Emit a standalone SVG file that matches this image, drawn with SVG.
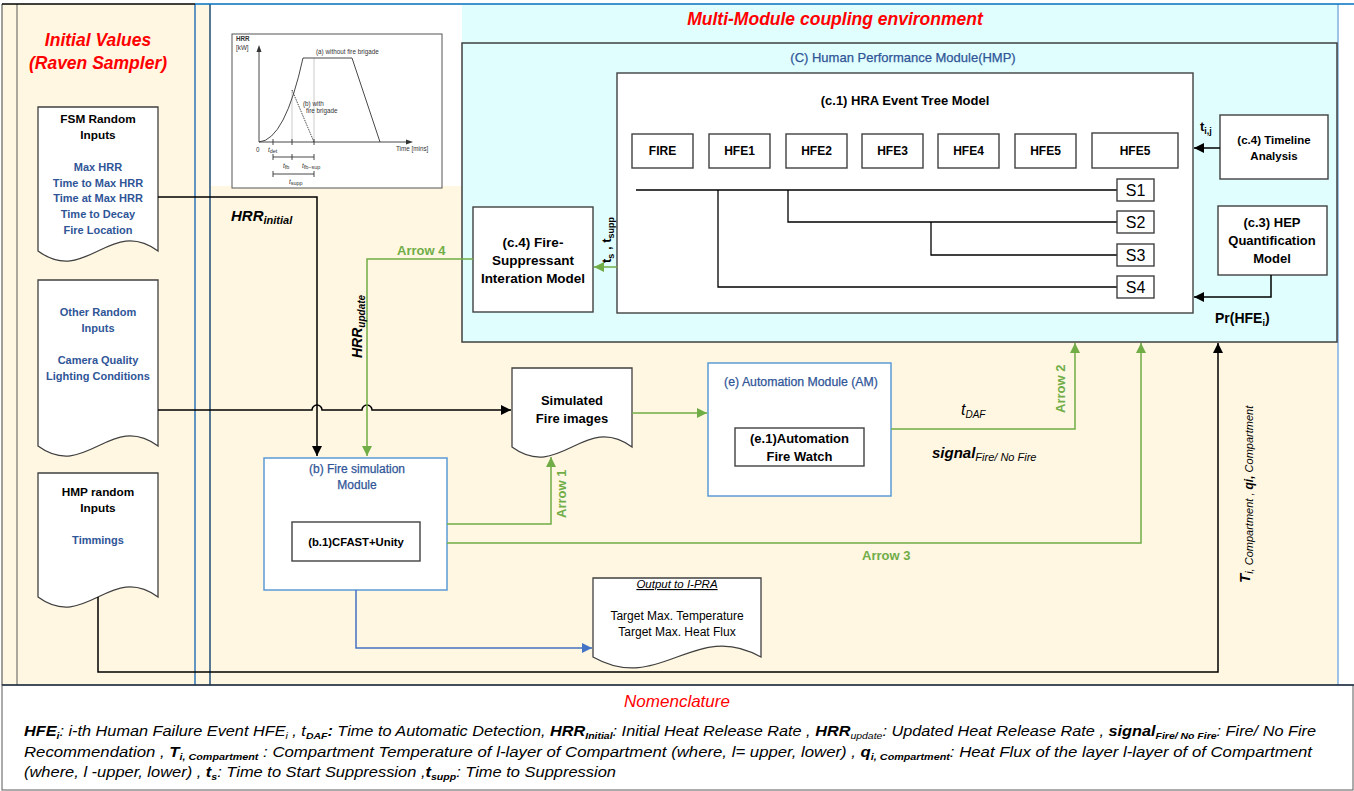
<svg xmlns="http://www.w3.org/2000/svg" width="1354" height="791" viewBox="0 0 1354 791">
<defs>
<style>
text{font-family:"Liberation Sans",Arial,sans-serif;fill:#000}
.b{font-weight:bold}
.i{font-style:italic}
.c{text-anchor:middle}
.blue{fill:#2F5597}
.bd{fill:#2F5597;font-weight:bold;font-size:11px}
.bt{fill:#2F5597;stroke:#2F5597;stroke-width:0.25}
.red{fill:#FF0000;font-weight:bold;font-style:italic}
.gl{fill:#70AD47;font-weight:bold;font-size:13px}
.doc{fill:#fff;stroke:#404040;stroke-width:1.3}
.box{fill:#fff;stroke:#404040;stroke-width:1.4}
.mod{fill:#fff;stroke:#5B9BD5;stroke-width:1.5}
.cb{fill:none;stroke:#000;stroke-width:1.5}
.cg{fill:none;stroke:#70AD47;stroke-width:1.5}
.cu{fill:none;stroke:#4472C4;stroke-width:1.5}
.et{fill:none;stroke:#000;stroke-width:1.3}
.gr{fill:#333;font-size:6.3px}
.gline{fill:none;stroke:#333;stroke-width:0.9}
.faint{fill:none;stroke:#aaa;stroke-width:0.6}
.nom{font-size:14px;font-style:italic}
</style>
<marker id="ab" viewBox="0 0 10 10" refX="10" refY="5" markerWidth="10" markerHeight="10" markerUnits="userSpaceOnUse" orient="auto"><path d="M0,0 L10,5 L0,10 Z" fill="#000"/></marker>
<marker id="ag" viewBox="0 0 10 10" refX="10" refY="5" markerWidth="10" markerHeight="10" markerUnits="userSpaceOnUse" orient="auto"><path d="M0,0 L10,5 L0,10 Z" fill="#70AD47"/></marker>
<marker id="au" viewBox="0 0 10 10" refX="10" refY="5" markerWidth="10" markerHeight="10" markerUnits="userSpaceOnUse" orient="auto"><path d="M0,0 L10,5 L0,10 Z" fill="#4472C4"/></marker>
</defs>

<g id="background">
<rect x="0" y="0" width="1354" height="791" fill="#fff"/>
<rect x="2" y="4" width="1336" height="681" fill="#FFF7E2"/>
<rect x="211" y="5" width="251" height="181" fill="#fff"/>
<rect x="462" y="5" width="876" height="337" fill="#E0FEFE"/>
<line x1="2" y1="4" x2="2" y2="685" stroke="#7F7F7F" stroke-width="1.5"/>
<line x1="17" y1="4" x2="17" y2="685" stroke="#595959" stroke-width="1"/>
<line x1="195" y1="4" x2="195" y2="685" stroke="#2E75B6" stroke-width="1.5"/>
<line x1="210" y1="4" x2="210" y2="685" stroke="#1F4E79" stroke-width="1.5"/>
<line x1="1338" y1="4" x2="1338" y2="685" stroke="#9DC3E6" stroke-width="2"/>
<line x1="2" y1="4" x2="195" y2="4" stroke="#000" stroke-width="1.5"/>
<line x1="195" y1="4" x2="1354" y2="4" stroke="#0070C0" stroke-width="1.5"/>
</g>

<g id="initial-values-title">
<text x="98" y="46" class="red c" font-size="17.5">Initial Values</text>
<text x="98" y="69" class="red c" font-size="17.5">(Raven Sampler)</text>
</g>

<g id="multi-module-title">
<text x="835" y="25" class="red c" font-size="17.5">Multi-Module coupling environment</text>
</g>

<g id="hrr-graph">
<rect x="232" y="34" width="210" height="154" fill="#fff" stroke="#555" stroke-width="1"/>
<path class="gline" d="M259,142 V50"/>
<path d="M256.5,52 L259,45 L261.5,52 Z" fill="#333"/>
<path class="gline" d="M259,142 H408"/>
<path d="M406,139.5 L413,142 L406,144.5 Z" fill="#333"/>
<path class="faint" d="M292,90 V142 M314,58 V142"/>
<path class="gline" d="M259,142 Q285,140 303,58 L352,58 L380,142"/>
<path class="gline" d="M292,90 L314,142" stroke-dasharray="1.5,1"/>
<path class="gline" d="M273,139 V145 M292,139 V145 M314,139 V145"/>
<path class="gline" d="M273,157 H314 M273,154 V160 M292,154 V160 M314,154 V160"/>
<path class="gline" d="M273,174 H314 M273,171 V177 M314,171 V177"/>
<text x="236" y="41" class="gr b">HRR</text>
<text x="236" y="50" class="gr">[kW]</text>
<text x="316" y="54" class="gr">(a) without fire brigade</text>
<text x="303" y="106" class="gr">(b) with</text>
<text x="306" y="113" class="gr">fire brigade</text>
<text x="256" y="152" class="gr" font-size="7">0</text>
<text x="268" y="152" class="gr i" font-size="8.5">t<tspan font-size="5.5" font-style="normal" dy="1">det</tspan></text>
<text x="396" y="151" class="gr" font-size="7">Time [mins]</text>
<text x="283" y="168" class="gr i" font-size="8.5">t<tspan font-size="5.5" font-style="normal" dy="1">fb</tspan></text>
<text x="302" y="168" class="gr i" font-size="8.5">t<tspan font-size="5.5" font-style="normal" dy="1">fb−sup</tspan></text>
<text x="289" y="184" class="gr i" font-size="8.5">t<tspan font-size="5.5" font-style="normal" dy="1">supp</tspan></text>
</g>

<g id="hmp-module">
<rect x="462" y="43" width="875" height="299" fill="#E0FEFE" stroke="#404040" stroke-width="1.5"/>
<text x="903" y="62" class="bt c" font-size="13">(C) Human Performance Module(HMP)</text>
</g>

<g id="event-tree">
<rect x="617" y="73" width="576" height="240" class="box"/>
<text x="905" y="105" class="b c" font-size="13">(c.1) HRA Event Tree Model</text>
<rect x="632" y="134" width="61" height="34" class="box"/>
<text x="662.5" y="155" class="b c" font-size="12">FIRE</text>
<rect x="709" y="134" width="61" height="34" class="box"/>
<text x="739.5" y="155" class="b c" font-size="12">HFE1</text>
<rect x="786" y="134" width="61" height="34" class="box"/>
<text x="816.5" y="155" class="b c" font-size="12">HFE2</text>
<rect x="862" y="134" width="61" height="34" class="box"/>
<text x="892.5" y="155" class="b c" font-size="12">HFE3</text>
<rect x="938" y="134" width="61" height="34" class="box"/>
<text x="968.5" y="155" class="b c" font-size="12">HFE4</text>
<rect x="1015" y="134" width="61" height="34" class="box"/>
<text x="1045.5" y="155" class="b c" font-size="12">HFE5</text>
<rect x="1092" y="133" width="86" height="35" class="box"/>
<text x="1135" y="155" class="b c" font-size="12">HFE5</text>
<path class="et" d="M636,190 H1117 M718,190 V287 H1117 M788,190 V222 H1117 M931,222 V255 H1117"/>
<rect x="1117" y="179" width="37" height="22" class="box"/>
<text x="1135.5" y="196" class="c" font-size="16">S1</text>
<rect x="1117" y="211" width="37" height="22" class="box"/>
<text x="1135.5" y="228" class="c" font-size="16">S2</text>
<rect x="1117" y="244" width="37" height="22" class="box"/>
<text x="1135.5" y="261" class="c" font-size="16">S3</text>
<rect x="1117" y="276" width="37" height="22" class="box"/>
<text x="1135.5" y="293" class="c" font-size="16">S4</text>
</g>

<g id="timeline-analysis">
<rect x="1220" y="115" width="108" height="64" class="box"/>
<text x="1274" y="144" class="b c" font-size="11.5">(c.4) Timeline</text>
<text x="1274" y="160" class="b c" font-size="11.5">Analysis</text>
</g>

<g id="hep-quantification">
<rect x="1218" y="206" width="109" height="69" class="box"/>
<text x="1272" y="227" class="b c" font-size="13">(c.3) HEP</text>
<text x="1272" y="245" class="b c" font-size="13">Quantification</text>
<text x="1272" y="263" class="b c" font-size="13">Model</text>
</g>

<g id="fire-suppressant">
<rect x="473" y="207" width="120" height="105" class="box"/>
<text x="533" y="247" class="b c" font-size="13.5">(c.4) Fire-</text>
<text x="533" y="265" class="b c" font-size="13.5">Suppressant</text>
<text x="533" y="283" class="b c" font-size="13.5">Interation Model</text>
</g>

<g id="fsm-inputs">
<path class="doc" d="M38,107 H158 V251 C110,216 86,286 38,251 Z"/>
<text x="98" y="123" class="b c" font-size="11.8">FSM Random</text>
<text x="98" y="139" class="b c" font-size="11.8">Inputs</text>
<text x="98" y="171" class="bd c">Max HRR</text>
<text x="98" y="187" class="bd c">Time to Max HRR</text>
<text x="98" y="202" class="bd c">Time at Max HRR</text>
<text x="98" y="218" class="bd c">Time to Decay</text>
<text x="98" y="234" class="bd c">Fire Location</text>
</g>

<g id="other-inputs">
<path class="doc" d="M38,280 H158 V446 C110,411 86,481 38,446 Z"/>
<text x="98" y="316" class="bd c">Other Random</text>
<text x="98" y="332" class="bd c">Inputs</text>
<text x="98" y="364" class="bd c">Camera Quality</text>
<text x="98" y="380" class="bd c">Lighting Conditions</text>
</g>

<g id="hmp-inputs">
<path class="doc" d="M38,473 H158 V597 C110,562 86,632 38,597 Z"/>
<text x="98" y="496" class="b c" font-size="11.8">HMP random</text>
<text x="98" y="512" class="b c" font-size="11.8">Inputs</text>
<text x="98" y="544" class="bd c">Timmings</text>
</g>

<g id="fire-simulation">
<rect x="264" y="458" width="183" height="132" class="mod"/>
<text x="357" y="473" class="bt c" font-size="12">(b) Fire simulation</text>
<text x="357" y="489" class="bt c" font-size="12">Module</text>
<rect x="292" y="522" width="128" height="39" class="box"/>
<text x="356" y="546" class="b c" font-size="11.3">(b.1)CFAST+Unity</text>
</g>

<g id="simulated-images">
<path class="doc" d="M512,368 H632 V447 C584,412 560,482 512,447 Z"/>
<text x="572" y="405" class="b c" font-size="13">Simulated</text>
<text x="572" y="423" class="b c" font-size="13">Fire images</text>
</g>

<g id="automation-module">
<rect x="708" y="363" width="183" height="133" class="mod"/>
<text x="801" y="386" class="bt c" font-size="12.3">(e) Automation Module (AM)</text>
<rect x="735" y="428" width="129" height="38" class="box"/>
<text x="799.5" y="443" class="b c" font-size="13">(e.1)Automation</text>
<text x="799.5" y="461" class="b c" font-size="13">Fire Watch</text>
</g>

<g id="output-ipra">
<path class="doc" d="M593,578 H761 V657 C694,619 660,695 593,657 Z"/>
<text x="677" y="588" class="i c" font-size="11.5" text-decoration="underline">Output to I-PRA</text>
<text x="677" y="620" class="c" font-size="12">Target Max. Temperature</text>
<text x="677" y="636" class="c" font-size="12">Target Max. Heat Flux</text>
</g>

<g id="connectors">
<path class="cb" d="M158,197 H317 V456" marker-end="url(#ab)"/>
<path class="cb" d="M158,410 H312 A5,5 0 0 1 322,410 H362 A5,5 0 0 1 372,410 H511" marker-end="url(#ab)"/>
<path class="cg" d="M473,259 H367 V456" marker-end="url(#ag)"/>
<path class="cg" d="M617,267 H594" marker-end="url(#ag)"/>
<path class="cb" d="M1220,148 H1194" marker-end="url(#ab)"/>
<path class="cb" d="M1271,275 V297 H1194" marker-end="url(#ab)"/>
<path class="cg" d="M447,524 H551 V457" marker-end="url(#ag)"/>
<path class="cg" d="M632,413 H707" marker-end="url(#ag)"/>
<path class="cg" d="M891,429 H1075 V343" marker-end="url(#ag)"/>
<path class="cg" d="M447,543 H1141 V343" marker-end="url(#ag)"/>
<path class="cu" d="M356,590 V648 H592" marker-end="url(#au)"/>
<path class="cb" d="M98,597 V672 H1218 V343" marker-end="url(#ab)"/>
</g>

<g id="connector-labels">
<text x="231" y="221" class="b i" font-size="15">HRR<tspan font-size="11" dy="3">initial</tspan></text>
<text transform="translate(362,358) rotate(-90)" class="b i" font-size="14">HRR<tspan font-size="10" dy="3">update</tspan></text>
<text x="397" y="255" class="gl">Arrow 4</text>
<text transform="translate(611,263) rotate(-90)" class="b" font-size="13">t<tspan font-size="9" dy="3">s</tspan><tspan dy="-3"> , t</tspan><tspan font-size="9" dy="3">supp</tspan></text>
<text x="1200" y="131" class="b" font-size="13">t<tspan font-size="9" dy="3">i,j</tspan></text>
<text x="1215" y="323" class="b" font-size="14">Pr(HFE<tspan font-size="9" dy="3">i</tspan><tspan dy="-3">)</tspan></text>
<text transform="translate(566,518) rotate(-90)" class="gl">Arrow 1</text>
<text transform="translate(1065,413) rotate(-90)" class="gl">Arrow 2</text>
<text x="862" y="560" class="gl">Arrow 3</text>
<text x="961" y="415" class="i" font-size="16">t<tspan font-size="10" dy="3">DAF</tspan></text>
<text x="932" y="458" class="b i" font-size="15">signal<tspan font-size="11" font-weight="normal" dy="3">Fire/ No Fire</tspan></text>
<text transform="translate(1250,583) rotate(-90)" class="i" font-size="11"><tspan class="b" font-size="15">T</tspan><tspan dy="3">i, Compartment , </tspan><tspan class="b" font-size="12">qi,</tspan><tspan> Compartment</tspan></text>
</g>

<g id="nomenclature">
<rect x="2" y="685" width="1351" height="105" fill="#fff" stroke="#595959" stroke-width="1"/>
<line x1="2" y1="685" x2="1354" y2="685" stroke="#1F2F45" stroke-width="1.5"/>
<text x="677" y="707" class="c i" font-size="17" style="fill:#FF0000">Nomenclature</text>
<text x="24" y="736" class="nom" textLength="1292" lengthAdjust="spacingAndGlyphs"><tspan class="b">HFE</tspan><tspan class="b" font-size="9" dy="3">i</tspan><tspan dy="-3">: i-th Human Failure Event HFE</tspan><tspan font-size="9" dy="3">i</tspan><tspan dy="-3"> , t</tspan><tspan class="b" font-size="9" dy="3">DAF</tspan><tspan class="b" dy="-3">:</tspan><tspan> Time to Automatic Detection, </tspan><tspan class="b">HRR</tspan><tspan class="b" font-size="9" dy="3">Initial</tspan><tspan dy="-3">: Initial Heat Release Rate , </tspan><tspan class="b">HRR</tspan><tspan font-size="9" dy="3">update</tspan><tspan dy="-3">: Updated Heat Release Rate , </tspan><tspan class="b">signal</tspan><tspan class="b" font-size="9" dy="3">Fire/ No Fire</tspan><tspan dy="-3">: Fire/ No Fire</tspan></text>
<text x="24" y="757" class="nom" textLength="1288" lengthAdjust="spacingAndGlyphs">Recommendation , <tspan class="b">T</tspan><tspan class="b" font-size="9" dy="3">i, Compartment</tspan><tspan dy="-3"> : Compartment Temperature of l-layer of Compartment (where, l= upper, lower) , </tspan><tspan class="b">q</tspan><tspan class="b" font-size="9" dy="3">i, Compartment</tspan><tspan dy="-3">: Heat Flux of the layer l-layer of of Compartment</tspan></text>
<text x="24" y="777" class="nom" textLength="592" lengthAdjust="spacingAndGlyphs">(where, l -upper, lower) , <tspan class="b">t</tspan><tspan class="b" font-size="9" dy="3">s</tspan><tspan dy="-3">: Time to Start Suppression ,</tspan><tspan class="b">t</tspan><tspan class="b" font-size="9" dy="3">supp</tspan><tspan dy="-3">:  Time to Suppression</tspan></text>
</g>
</svg>
